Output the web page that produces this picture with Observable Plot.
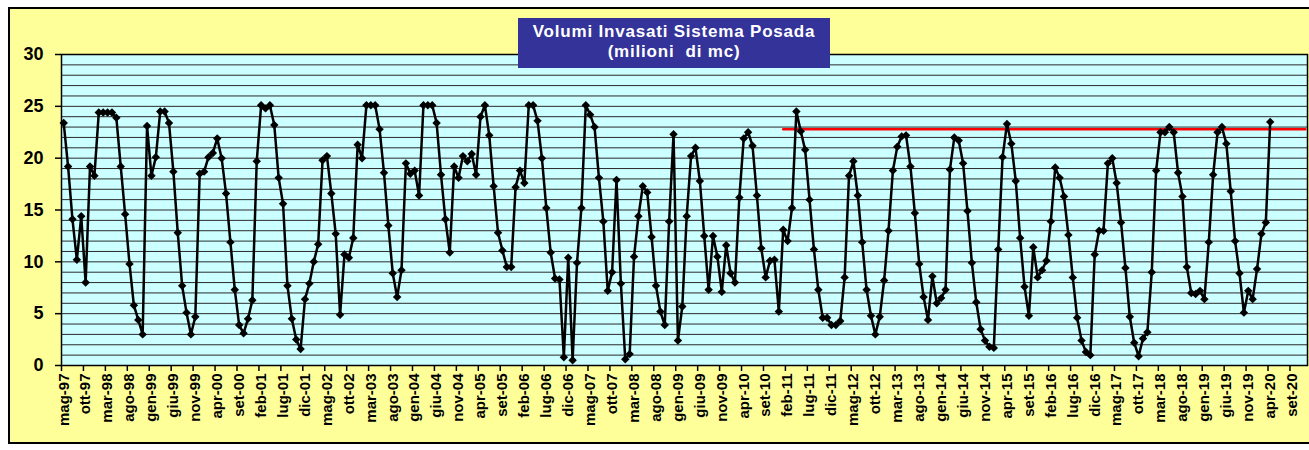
<!DOCTYPE html>
<html>
<head>
<meta charset="utf-8">
<script src="https://cdn.jsdelivr.net/npm/d3@7"></script>
<script src="https://cdn.jsdelivr.net/npm/@observablehq/plot@0.6"></script>
<style>
  html, body { margin: 0; padding: 0; background: #ffffff; width: 1309px; height: 450px; overflow: hidden; }
  #bg { position: absolute; left: 8px; top: 7px; width: 1310px; height: 437px; background: #FFFF99; border: 2px solid #000; box-sizing: border-box; }
  #chart { position: absolute; left: 0; top: 0; }
  #title { position: absolute; left: 518px; top: 18px; width: 312px; height: 50px; background: #333399; color: #fff;
           font: bold 17px "Liberation Sans", Arial, sans-serif; letter-spacing: 0.8px; text-align: center; line-height: 20px; padding-top: 4px; box-sizing: border-box; white-space: pre; }
</style>
</head>
<body>
<div id="bg"></div>
<div id="chart"></div>
<div id="title">Volumi Invasati Sistema Posada
(milioni  di mc)</div>
<script>
// Monthly categories start at May 1997 and the axis runs to Dec 2020
const monthNames = ["gen","feb","mar","apr","mag","giu","lug","ago","set","ott","nov","dic"];
const startYear = 1997, startMonth = 4; // mag-97
const categoryCount = 284;             // mag-97 .. dic-20

// Volumi invasati (milioni di mc), monthly from mag-97 to apr-20
const volumes = [
23.4,19.2,14.1,10.2,14.4,8.0,19.2,18.3,24.4,24.4,24.4,24.4,23.9,19.2,14.6,9.8,5.8,4.4,3.0,23.1,
18.3,20.1,24.5,24.5,23.4,18.7,12.8,7.7,5.1,3.0,4.7,18.5,18.7,20.1,20.5,21.9,20.0,16.6,11.9,7.3,
3.9,3.1,4.5,6.3,19.7,25.1,24.8,25.1,23.2,18.1,15.6,7.7,4.5,2.5,1.6,6.4,7.9,10.0,11.7,19.8,
20.2,16.6,12.7,4.9,10.7,10.4,12.3,21.3,20.0,25.1,25.1,25.1,22.8,18.6,13.5,8.9,6.6,9.2,19.5,18.5,
18.8,16.4,25.1,25.1,25.1,23.4,18.4,14.1,10.9,19.2,18.1,20.2,19.7,20.4,18.4,24.0,25.1,22.2,17.3,12.8,
11.1,9.5,9.5,17.2,18.8,17.6,25.1,25.1,23.6,20.0,15.2,10.9,8.4,8.3,0.8,10.4,0.5,9.9,15.2,25.1,
24.2,23.0,18.1,13.9,7.2,9.0,17.9,7.9,0.6,1.1,10.5,14.4,17.3,16.7,12.4,7.7,5.2,3.9,13.9,22.3,
2.4,5.7,14.4,20.2,21.0,17.8,12.5,7.3,12.5,10.5,7.1,11.6,8.9,8.0,16.2,21.9,22.5,21.2,16.4,11.3,
8.5,10.1,10.2,5.2,13.1,12.0,15.2,24.5,22.6,20.8,16.0,11.2,7.3,4.6,4.6,3.9,3.9,4.3,8.5,18.3,
19.7,16.4,11.9,7.3,4.8,3.0,4.7,8.2,13.0,18.8,21.1,22.1,22.2,19.2,14.7,9.8,6.6,4.4,8.6,6.0,
6.5,7.3,18.9,22.0,21.7,19.5,14.9,9.9,6.1,3.5,2.4,1.8,1.7,11.2,20.1,23.3,21.4,17.8,12.3,7.6,
4.8,11.4,8.5,9.2,10.1,13.9,19.1,18.1,16.3,12.6,8.5,4.6,2.4,1.3,1.0,10.7,13.0,13.0,19.5,20.0,
17.6,13.8,9.4,4.7,2.2,0.9,2.6,3.2,9.0,18.8,22.5,22.5,23.0,22.5,18.6,16.3,9.5,7.0,6.9,7.2,
6.4,11.9,18.4,22.5,23.0,21.4,16.8,12.0,8.9,5.1,7.2,6.4,9.3,12.7,13.8,23.5
];

// Red reference line
const redLineValue = 22.8;
const redLineFrom = "gen-11";
const redLineTo = "dic-20";

// X tick labels (every 5 months)
const xTickLabels = ["mag-97","ott-97","mar-98","ago-98","gen-99","giu-99","nov-99","apr-00","set-00","feb-01",
"lug-01","dic-01","mag-02","ott-02","mar-03","ago-03","gen-04","giu-04","nov-04","apr-05","set-05","feb-06",
"lug-06","dic-06","mag-07","ott-07","mar-08","ago-08","gen-09","giu-09","nov-09","apr-10","set-10","feb-11",
"lug-11","dic-11","mag-12","ott-12","mar-13","ago-13","gen-14","giu-14","nov-14","apr-15","set-15","feb-16",
"lug-16","dic-16","mag-17","ott-17","mar-18","ago-18","gen-19","giu-19","nov-19","apr-20","set-20"];
const yTicks = [0,5,10,15,20,25,30];

// Build category names
const categories = d3.range(categoryCount).map(i => {
  const m = startMonth + i;
  const y = startYear + Math.floor(m / 12);
  return monthNames[m % 12] + "-" + String(y % 100).padStart(2, "0");
});
const catIndex = new Map(categories.map((c, i) => [c, i]));

const data = volumes.map((v, i) => ({cat: categories[i], i, v}));
const redData = d3.range(catIndex.get(redLineFrom), catIndex.get(redLineTo) + 1).map(i => ({i, v: redLineValue}));

const labelPos = xTickLabels.map(l => catIndex.get(l) + 0.5);
const labelMap = new Map(xTickLabels.map(l => [catIndex.get(l) + 0.5, l]));
const tickPos = xTickLabels.map(l => catIndex.get(l));

const font = '"Liberation Sans", Arial, sans-serif';

const chart = Plot.plot({
  width: 1309,
  height: 450,
  marginLeft: 61,
  marginRight: 2,
  marginTop: 54,
  marginBottom: 85,
  style: {background: "transparent", fontFamily: font},
  x: {domain: [0, categoryCount], axis: null},
  y: {domain: [0, 30], axis: null},
  marks: [
    Plot.frame({fill: "#CCFFFF", stroke: null}),
    Plot.ruleY(d3.range(1, 30), {stroke: "#2a2a2a", strokeWidth: 1}),
    Plot.frame({stroke: "#000", strokeWidth: 1.5}),
    Plot.axisY(yTicks, {tickSize: 6, tickPadding: 12, fontSize: 18, fontWeight: "bold", label: null, stroke: "#000", strokeWidth: 1.5}),
    Plot.axisX(tickPos, {tickSize: 6, tickFormat: () => "", label: null, stroke: "#000", strokeWidth: 1.5}),
    Plot.axisX(labelPos, {tickSize: 0, tickPadding: 8, tickRotate: -90, tickFormat: d => labelMap.get(d), fontSize: 15, fontWeight: "bold", label: null}),
    Plot.line(redData, {x: d => d.i + 0.5, y: "v", stroke: "#FF0000", strokeWidth: 2.5}),
    Plot.line(data, {x: d => d.i + 0.5, y: "v", stroke: "#000", strokeWidth: 2.5}),
    Plot.dot(data, {x: d => d.i + 0.5, y: "v", symbol: "diamond2", r: 3.8, fill: "#000", stroke: null})
  ]
});
document.getElementById("chart").appendChild(chart);
</script>
</body>
</html>
